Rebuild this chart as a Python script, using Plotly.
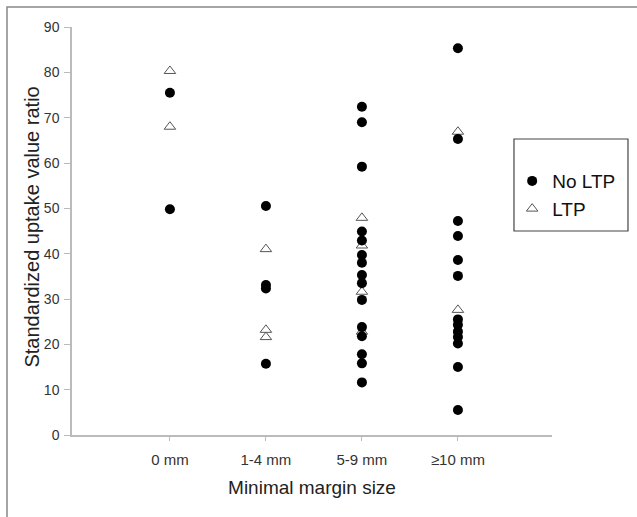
import plotly.graph_objects as go

categories = ["0 mm", "1-4 mm", "5-9 mm", "\u226510 mm"]

no_ltp_cat = [0, 0,
              1, 1, 1, 1,
              2, 2, 2, 2, 2, 2, 2, 2, 2, 2, 2, 2, 2, 2, 2,
              3, 3, 3, 3, 3, 3, 3, 3, 3, 3, 3, 3, 3]
no_ltp_val = [75.5, 49.8,
              50.5, 33.1, 32.3, 15.7,
              72.4, 69.0, 59.2, 44.9, 42.9, 39.7, 38.0, 35.3, 33.5, 29.8, 23.8, 21.8, 17.8, 15.8, 11.6,
              85.3, 65.3, 47.2, 43.9, 38.6, 35.1, 25.5, 24.3, 22.8, 21.6, 20.2, 15.0, 5.5]

ltp_cat = [0, 0, 1, 1, 1, 2, 2, 2, 2, 3, 3]
ltp_val = [80.3, 68.0, 41.0, 23.2, 21.6, 47.9, 41.8, 31.6, 22.8, 66.9, 27.6]

y_ticks = [0, 10, 20, 30, 40, 50, 60, 70, 80, 90]

FONT = "Liberation Sans, Arial, sans-serif"

fig = go.Figure()
fig.add_trace(go.Scatter(
    x=ltp_cat, y=ltp_val, mode="markers", name="LTP", legendrank=2,
    marker=dict(symbol="triangle-up", size=10, color="white",
                line=dict(color="#555555", width=1)),
))
fig.add_trace(go.Scatter(
    x=no_ltp_cat, y=no_ltp_val, mode="markers", name="No LTP", legendrank=1,
    marker=dict(symbol="circle", size=10, color="black", line=dict(width=0)),
))

fig.update_layout(
    width=637, height=517,
    margin=dict(l=72, r=85, t=27, b=82),
    paper_bgcolor="white", plot_bgcolor="white",
    font=dict(family=FONT, color="#222222"),
    showlegend=True,
    legend=dict(
        x=0.917, y=0.669, xanchor="left", yanchor="top",
        bgcolor="rgba(0,0,0,0)", borderwidth=0,
        font=dict(size=19, color="#111111", family=FONT),
        tracegroupgap=4,
        itemwidth=30,
    ),
    xaxis=dict(
        range=[-1.02, 3.98],
        tickmode="array", tickvals=[0, 1, 2, 3], ticktext=categories,
        showgrid=False, zeroline=False,
        showline=True, linecolor="#bbbbbb", linewidth=1.5,
        ticks="outside", ticklen=4, tickcolor="#bbbbbb",
        tickfont=dict(size=15, color="#333333"),
        ticklabelstandoff=6,
        title=dict(text="Minimal margin size", font=dict(size=19, color="#222222"), standoff=14),
    ),
    yaxis=dict(
        range=[0, 90],
        tickmode="array", tickvals=y_ticks,
        showgrid=False, zeroline=False,
        showline=True, linecolor="#bbbbbb", linewidth=1.5,
        ticks="outside", ticklen=6, tickcolor="#bbbbbb",
        tickfont=dict(size=14, color="#333333"),
        ticklabelstandoff=2,
    ),
    annotations=[
        dict(text="Standardized uptake value ratio", textangle=-90,
             xref="paper", yref="paper", x=-0.084, y=0.51,
             xanchor="center", yanchor="middle", showarrow=False,
             font=dict(size=20, color="#222222", family=FONT)),
    ],
    shapes=[
        dict(type="rect", xref="paper", yref="paper",
             x0=-0.1354, x1=1.194, y0=-0.2206, y1=1.049,
             line=dict(color="#888888", width=1.5), layer="below"),
        dict(type="rect", xref="paper", yref="paper",
             x0=0.9208, x1=1.1583, y0=0.5, y1=0.7255,
             line=dict(color="#444444", width=1.2), layer="above"),
    ],
)

fig.write_html("out.html", config={"displayModeBar": False},
               post_script="document.body.style.margin='0';")
